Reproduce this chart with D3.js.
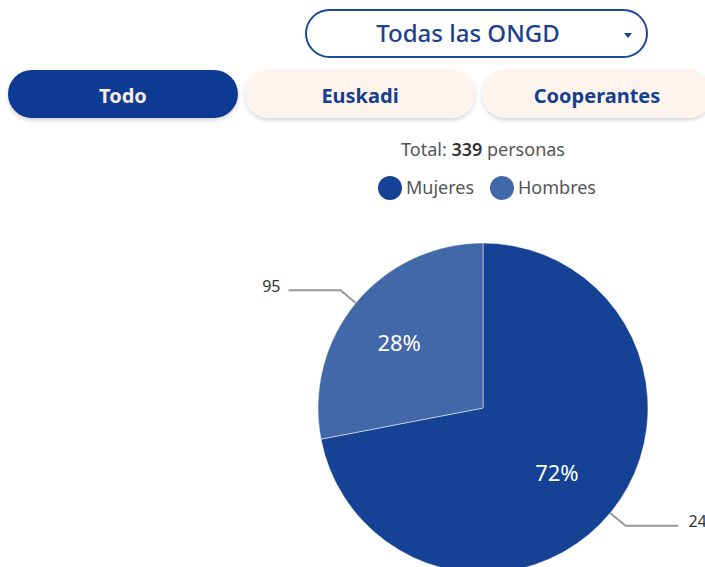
<!DOCTYPE html>
<html>
<head>
<meta charset="utf-8">
<script src="https://cdn.jsdelivr.net/npm/d3@7"></script>
<style>
  html, body { margin: 0; padding: 0; background: #ffffff; overflow: hidden; }
  svg { display: block; font-family: "Noto Sans", "Open Sans", sans-serif; }
</style>
</head>
<body>
<svg id="chart" width="705" height="567"></svg>
<script>
const categories = ["Mujeres", "Hombres"];
const values = [244, 95];
const colors = ["#154295", "#4268a9"];
const tabs = ["Todo", "Euskadi", "Cooperantes"];
const dropdownLabel = "Todas las ONGD";
const unitLabel = "personas";

const svg = d3.select("#chart");
const defs = svg.append("defs");
const f = defs.append("filter").attr("id", "shadow").attr("x", "-10%").attr("y", "-30%").attr("width", "120%").attr("height", "170%");
f.append("feDropShadow").attr("dx", 0).attr("dy", 2).attr("stdDeviation", 2).attr("flood-color", "#000").attr("flood-opacity", 0.18);

// Dropdown
const dd = svg.append("g");
dd.append("rect").attr("x", 306).attr("y", 10).attr("width", 341).attr("height", 47).attr("rx", 23.5)
  .attr("fill", "#fff").attr("stroke", "#1d4a9b").attr("stroke-width", 2);
dd.append("text").attr("x", 468).attr("y", 34).attr("dy", "0.35em").attr("text-anchor", "middle")
  .attr("font-size", 24).attr("font-weight", 500).attr("fill", "#1c428f").text(dropdownLabel);
dd.append("path").attr("d", "M624,33 L632,33 L628,38 Z").attr("fill", "#1c428f");

// Tabs
const tabX = d3.scaleBand().domain(tabs).range([8, 712]).paddingInner(0.03);
const tg = svg.append("g").selectAll("g").data(tabs).join("g");
tg.append("rect").attr("x", d => tabX(d)).attr("y", 70).attr("width", tabX.bandwidth()).attr("height", 48)
  .attr("rx", 24).attr("fill", (d, i) => i === 0 ? "#093a94" : "#fdf4ee")
  .attr("filter", "url(#shadow)");
tg.append("text").attr("x", d => tabX(d) + tabX.bandwidth() / 2).attr("y", 96).attr("dy", "0.35em")
  .attr("text-anchor", "middle").attr("font-size", 20).attr("font-weight", 700)
  .attr("fill", (d, i) => i === 0 ? "#f6ecdf" : "#163f8f").text(d => d);

// Total
const total = d3.sum(values);
const tt = svg.append("text").attr("x", 483).attr("y", 150).attr("dy", "0.35em").attr("text-anchor", "middle")
  .attr("font-size", 18).attr("fill", "#555");
tt.append("tspan").text("Total: ");
tt.append("tspan").attr("font-weight", 600).attr("fill", "#333").text(total);
tt.append("tspan").text(" " + unitLabel);

// Legend
const legX = [390, 502];
const lg = svg.append("g").selectAll("g").data(categories).join("g")
  .attr("transform", (d, i) => `translate(${legX[i]},188)`);
lg.append("circle").attr("r", 12).attr("fill", (d, i) => colors[i]);
lg.append("text").attr("x", 16).attr("dy", "0.35em").attr("font-size", 18).attr("fill", "#555").text(d => d);

// Pie
const cx = 483, cy = 408, r = 165;
const pie = d3.pie().sort(null).value(d => d.v);
const arcs = pie(categories.map((c, i) => ({ c, v: values[i], i })));
const arc = d3.arc().innerRadius(0).outerRadius(r);
const g = svg.append("g").attr("transform", `translate(${cx},${cy})`);
g.selectAll("path").data(arcs).join("path").attr("d", arc).attr("fill", d => colors[d.data.i])
  .attr("stroke", "#fff").attr("stroke-width", 0.5);

const labelArc = d3.arc().innerRadius(r * 0.62).outerRadius(r * 0.62);
g.selectAll("text.pct").data(arcs).join("text").attr("class", "pct")
  .attr("transform", d => { const [x, y] = labelArc.centroid(d); return `translate(${x - 5},${y})`; })
  .attr("text-anchor", "middle").attr("dy", "0.35em").attr("font-size", 22).attr("fill", "#fff")
  .text(d => Math.round(d.data.v / total * 100) + "%");

// Leader lines
const outerPt = (d, rr) => { const a = (d.startAngle + d.endAngle) / 2; return [Math.sin(a) * rr, -Math.cos(a) * rr]; };
arcs.forEach(d => {
  const p0 = outerPt(d, r);
  const p1 = outerPt(d, r * 1.12);
  const right = p1[0] > 0;
  const p2 = [p1[0] + (right ? 53 : -52), p1[1]];
  g.append("polyline").attr("points", [p0, p1, p2].map(p => p.join(",")).join(" "))
    .attr("fill", "none").attr("stroke", "#999").attr("stroke-width", 2);
  g.append("text").attr("x", p2[0] + (right ? 10 : -8)).attr("y", p2[1] - 4).attr("dy", "0.35em")
    .attr("text-anchor", right ? "start" : "end").attr("font-size", 16).attr("fill", "#333")
    .text(d.data.v);
});
</script>
</body>
</html>
